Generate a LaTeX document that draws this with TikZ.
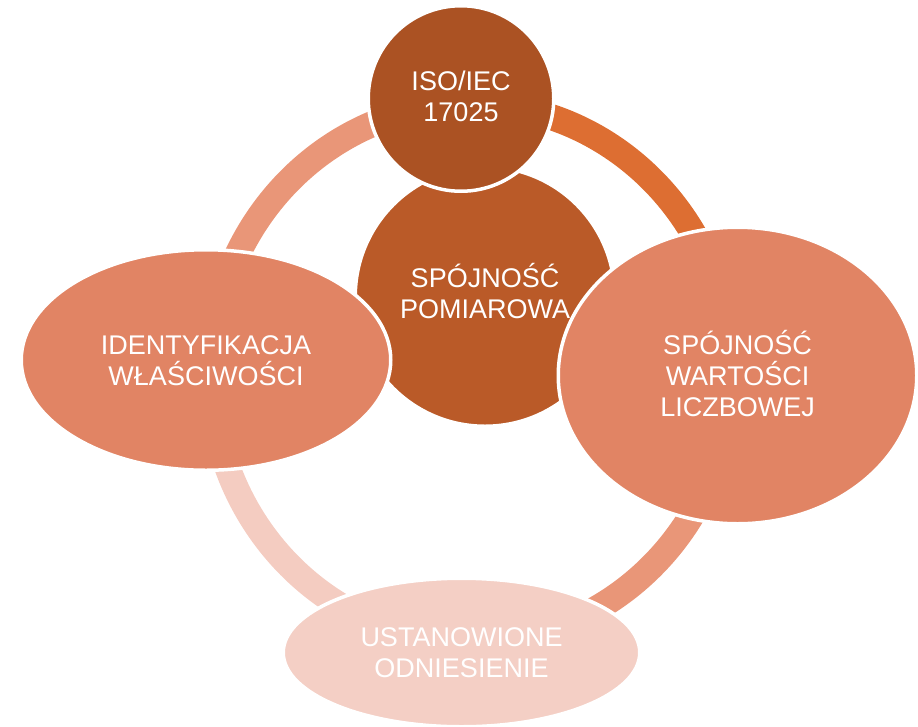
\documentclass[tikz,border=0pt]{standalone}
\usepackage{fontspec}
\setmainfont{Liberation Sans}
\usetikzlibrary{shapes.geometric}

% palette
\definecolor{topfill}{HTML}{AB5223}
\definecolor{hubfill}{HTML}{BA5A28}
\definecolor{sidefill}{HTML}{E18464}
\definecolor{basefill}{HTML}{F4CFC5}
\definecolor{arcdark}{HTML}{DD6E32}
\definecolor{arcmid}{HTML}{E99678}
\definecolor{arclight}{HTML}{F4CCC1}

\begin{document}
\begin{tikzpicture}[x=1pt,y=1pt,
  bubble/.style={ellipse, inner sep=0pt, draw=white, line width=3.5pt,
    text=white, align=center, font=\fontsize{27}{31}\selectfont,
    text depth=0pt},
  disc/.style={bubble, circle},
  twolines/.style={text height=50.3pt},
  threelines/.style={text height=81.3pt},
  ringarc/.style={line width=26pt}]

\useasboundingbox (0,0) rectangle (918,-726);

% the cycle ring, one coloured quarter per link
\coordinate (ringc) at (471,-373);
\draw[ringarc, arcdark]  ([shift={(0:260pt and 269pt)}]ringc)
  arc[start angle=0, end angle=90, x radius=260pt, y radius=269pt];
\draw[ringarc, arcmid]   ([shift={(90:260pt and 269pt)}]ringc)
  arc[start angle=90, end angle=180, x radius=260pt, y radius=269pt];
\draw[ringarc, arclight] ([shift={(180:260pt and 269pt)}]ringc)
  arc[start angle=180, end angle=270, x radius=260pt, y radius=269pt];
\draw[ringarc, arcmid]   ([shift={(270:260pt and 269pt)}]ringc)
  arc[start angle=270, end angle=360, x radius=260pt, y radius=269pt];

% hub
\node[disc, twolines, text depth=7pt, fill=hubfill, minimum size=259.5pt]
  (hub) at (485,-296.5) {SPÓJNOŚĆ\\POMIAROWA};

% satellites
\node[disc, twolines, text depth=4pt, fill=topfill, minimum size=185.5pt]
  (iso) at (461,-98.5) {ISO/IEC\\17025};
\node[bubble, twolines, fill=sidefill, minimum width=369.5pt, minimum height=220.5pt]
  (ident) at (206,-360) {IDENTYFIKACJA\\WŁAŚCIWOŚCI};
\node[bubble, threelines, fill=sidefill, minimum width=358.5pt, minimum height=296.5pt]
  (value) at (737.5,-375.5) {SPÓJNOŚĆ\\WARTOŚCI\\LICZBOWEJ};
\node[bubble, twolines, fill=basefill, minimum width=356.5pt, minimum height=148.5pt]
  (ref) at (461.5,-652.5) {USTANOWIONE\\ODNIESIENIE};

\end{tikzpicture}
\end{document}
